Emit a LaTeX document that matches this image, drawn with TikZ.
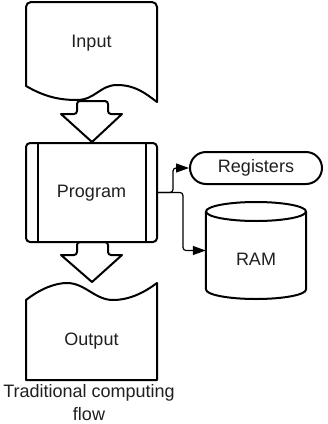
\documentclass[tikz,border=0pt]{standalone}
\usepackage{fontspec}
\setmainfont{Liberation Sans}
\usetikzlibrary{arrows.meta,calc}
\begin{document}
\begin{tikzpicture}[x=1pt,y=-1pt,
  shapeline/.style={draw=black,line width=2pt,line join=round},
  link/.style={draw=black,line width=1.2pt,rounded corners=3pt,-{Triangle[length=13pt,width=9pt]}},
  lbl/.style={font=\fontsize{18}{22.5}\selectfont,text=black!88,anchor=base,inner sep=0pt},
]
\useasboundingbox (0,0) rectangle (328,424);

% input document with wavy lower edge
\draw[shapeline] (26,86) [rounded corners=5pt] -- (26,2) -- (157,2) [sharp corners] -- (157,102)
  .. controls (145,93) and (135,85) .. (117,85)
  .. controls (100,85) and (95,100) .. (77,100)
  .. controls (60,100) and (45,97) .. cycle;
\node[lbl] (intxt) at (91.5,47.5) {Input};

% block arrow from input to program
\draw[shapeline] (92,142) -- (61,114) [rounded corners=3pt] -- (77,114) -- (77,101) -- (108,101) -- (108,114) [sharp corners] -- (122,114) -- cycle;

% program (predefined process)
\node[shapeline, rounded corners=4pt, minimum width=131pt, minimum height=99pt, inner sep=0pt] (prog) at (91.5,192.5) {};
\draw[shapeline] ($(prog.north west)+(13,0)$) -- ($(prog.south west)+(13,0)$);
\draw[shapeline] ($(prog.north east)+(-12,0)$) -- ($(prog.south east)+(-12,0)$);
\node[lbl] (progtxt) at (91.5,197) {Program};

% block arrow from program to output
\draw[shapeline] (92,282) -- (61,255) [rounded corners=3pt] -- (77,255) -- (77,242) -- (108,242) -- (108,255) [sharp corners] -- (122,255) -- cycle;

% output document with wavy upper edge
\draw[shapeline] (26,300) .. controls (40,289) and (55,283) .. (67,283)
  .. controls (85,283) and (95,300) .. (113,300)
  .. controls (130,300) and (145,292) .. (157,283) -- (157,380) -- (26,380) -- cycle;
\node[lbl] (outtxt) at (91.5,345) {Output};

% registers (terminator)
\node[shapeline, rounded corners=16pt, minimum width=132pt, minimum height=32pt, inner sep=0pt] (reg) at (256,168) {};
\node[lbl] (regtxt) at (256,172) {Registers};

% RAM (cylinder)
\node[minimum width=100pt, minimum height=97pt, inner sep=0pt] (ram) at (256,250.5) {};
\draw[shapeline] (ram.north west) ++(0,9.5) -- (206,289.5)
  .. controls (206,294.75) and (228.4,299) .. (256,299)
  .. controls (283.6,299) and (306,294.75) .. (306,289.5) -- (306,211.5);
\draw[shapeline] (256,211.5) ellipse [x radius=50, y radius=9.5];
\node[lbl] (ramtxt) at (256,265) {RAM};

% connectors
\draw[link] (prog.east) -- ++(15,0) |- (reg.west);
\draw[link] (prog.east) -- ++(25,0) |- (ram.west);

% caption, anchored on the baseline of its last line
\node[lbl, align=center] (cap) at (89,420) {Traditional computing\\flow};
\end{tikzpicture}
\end{document}
